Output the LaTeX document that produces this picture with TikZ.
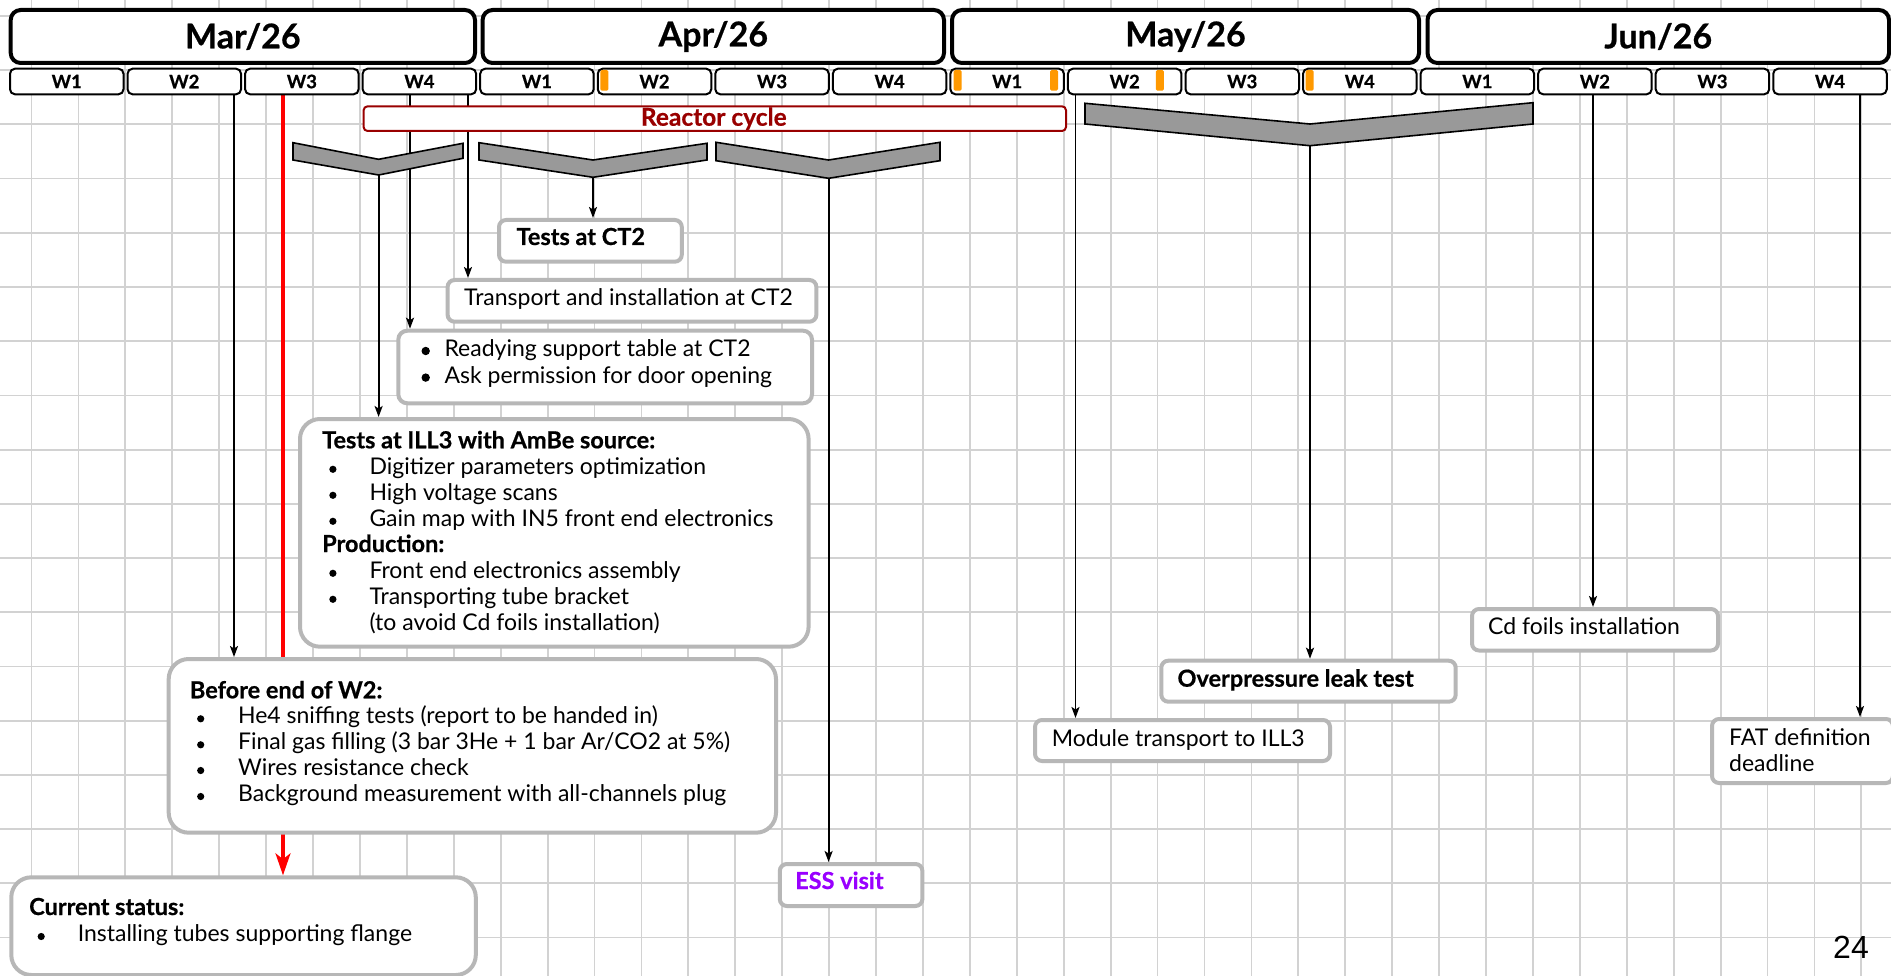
\documentclass[tikz,border=0pt]{standalone}
\usepackage{fontspec}
\setmainfont{Lato}[BoldFeatures={FakeBold=0.6}]
\newfontfamily\pagenumfont{Liberation Sans}
\usetikzlibrary{arrows.meta}
\definecolor{gridgray}{HTML}{D2D2D2}
\definecolor{boxgray}{HTML}{B7B7B7}
\definecolor{chevgray}{HTML}{999999}
\definecolor{reactred}{HTML}{990000}
\definecolor{markorange}{HTML}{FF9900}
\definecolor{esspurple}{HTML}{9900FF}
\pgfdeclarelayer{gridlayer}
\pgfdeclarelayer{linelayer}
\pgfsetlayers{gridlayer,linelayer,main}
\tikzset{
  gridline/.style={draw=gridgray, line width=1.8pt},
  month/.style={draw=black, line width=4pt, rounded corners=10pt, fill=white, inner sep=0pt, anchor=north west, minimum height=53pt, font=\fontsize{34}{38}\selectfont\bfseries},
  week/.style={draw=black, line width=2pt, rounded corners=5pt, fill=white, inner sep=0pt, anchor=north west, minimum width=113.5pt, minimum height=25.6pt, font=\fontsize{18.5}{20}\selectfont\bfseries},
  box/.style={draw=boxgray, line width=4pt, rounded corners=7pt, fill=white, inner sep=0pt, anchor=north west},
  bigbox/.style={box, rounded corners=20pt},
  reactor/.style={draw=reactred, line width=2pt, rounded corners=4pt, fill=white, inner sep=0pt, anchor=north west},
  chev/.style={draw=black, line width=1.6pt, fill=chevgray, line join=miter},
  arr/.style={draw=black, line width=1.8pt, -{Stealth[length=11pt, width=8pt, inset=2.5pt]}},
  redarr/.style={draw=red, line width=3.2pt, -{Stealth[length=22pt, width=15pt, inset=6pt]}},
  txt/.style={inner sep=0pt, anchor=base west, font=\fontsize{23}{26}\selectfont},
  btxt/.style={inner sep=0pt, anchor=base west, font=\fontsize{23.5}{26}\selectfont\bfseries},
  bul/.style={fill=black},
  omark/.style={fill=markorange, rounded corners=1.5pt},
}
\begin{document}
\begin{tikzpicture}[x=1pt,y=-1pt]
\useasboundingbox (0,0) rectangle (1891,976);
\begin{pgfonlayer}{gridlayer}
  \fill[white] (0,0) rectangle (1891,976);
  \foreach \k in {0,...,39} \draw[gridline] ({31.5+46.92*\k},0) -- ({31.5+46.92*\k},976);
  \foreach \k in {0,...,17} \draw[gridline] (0,{16+54.2*\k}) -- (1891,{16+54.2*\k});
\end{pgfonlayer}

% months
\node[month, minimum width=464.3pt] (mar) at (8.7,8) {Mar/26};
\node[month, minimum width=461.4pt] (apr) at (480.6,8) {Apr/26};
\node[month, minimum width=467pt] (may) at (950,8) {May/26};
\node[month, minimum width=461.5pt] (jun) at (1425.5,8) {Jun/26};

% weeks
\foreach \i in {0,...,15} {
  \pgfmathsetmacro\wl{9+117.55*\i}
  \pgfmathtruncatemacro\wn{mod(\i,4)+1}
  \node[week] (w\i) at (\wl,67.7) {W\wn};
}
% orange marks
\fill[omark] (600.4,70) rectangle ++(8,20.7);
\fill[omark] (953.6,70) rectangle ++(8,20.7);
\fill[omark] (1050,70) rectangle ++(8,20.7);
\fill[omark] (1155.8,70) rectangle ++(8,20.7);
\fill[omark] (1305.6,70) rectangle ++(8,20.7);

% reactor cycle
\node[reactor, minimum width=702.4pt, minimum height=24.7pt] (reactor) at (362.6,105.3) {};
\node[inner sep=0pt, anchor=base, text=reactred, font=\fontsize{24.5}{26}\selectfont\bfseries] (reactorlbl) at (713.8,125.7) {Reactor cycle};

% chevrons
\draw[chev] (293,142.7) -- (378.6,159.3) -- (463,143.3) -- (463,158.3) -- (378.6,175) -- (293,160) -- cycle;
\draw[chev] (479,142.7) -- (593,160) -- (707,143.3) -- (707,160) -- (593,177.3) -- (479,160) -- cycle;
\draw[chev] (716,142.3) -- (828.6,160) -- (940,142.3) -- (940,160.7) -- (828.6,178.3) -- (716,160.7) -- cycle;
\draw[chev] (1085,103.3) -- (1310,124) -- (1533,102.7) -- (1533,124) -- (1310,145.7) -- (1085,124) -- cycle;
\coordinate (c1) at (378.6,175);
\coordinate (c2) at (593,177.3);
\coordinate (c3) at (828.6,178.3);
\coordinate (c4) at (1310,145.7);

% boxes
\node[box, minimum width=182.8pt, minimum height=41.7pt] (tct2) at (497,218) {};
\node[btxt] (tct2t) at (516.4,245) {Tests at CT2};

\node[box, minimum width=368.8pt, minimum height=41.7pt] (transp) at (445.6,278) {};
\node[txt] (transpt) at (464,306) {Transport and installation at CT2};

\node[box, rounded corners=9pt, minimum width=413.7pt, minimum height=72.6pt] (ready) at (396.3,328.7) {};
\fill[bul] (425.7,351) circle[radius=4.2pt];
\node[txt] (ready1) at (444.3,356.7) {Readying support table at CT2};
\fill[bul] (425.7,377.6) circle[radius=4.2pt];
\node[txt] (ready2) at (444.3,383.3) {Ask permission for door opening};

\node[bigbox, minimum width=508.6pt, minimum height=227.7pt] (ill3) at (298,417) {};
\node[btxt] (ill3a) at (322,448.3) {Tests at ILL3 with AmBe source:};
\fill[bul] (332.9,469.3) circle[radius=3.6pt];
\node[txt] (ill3b) at (369.3,474) {Digitizer parameters optimization};
\fill[bul] (332.9,495.3) circle[radius=3.6pt];
\node[txt] (ill3c) at (369.3,500) {High voltage scans};
\fill[bul] (332.9,521.3) circle[radius=3.6pt];
\node[txt] (ill3d) at (369.3,526) {Gain map with IN5 front end electronics};
\node[btxt] (ill3e) at (322,552) {Production:};
\fill[bul] (332.9,573.3) circle[radius=3.6pt];
\node[txt] (ill3f) at (369.3,578) {Front end electronics assembly};
\fill[bul] (332.9,599.3) circle[radius=3.6pt];
\node[txt] (ill3g) at (369.3,604) {Transporting tube bracket};
\node[txt] (ill3h) at (369.3,630) {(to avoid Cd foils installation)};

\node[bigbox, minimum width=607.3pt, minimum height=173.7pt] (bw2) at (166.7,657) {};
\node[btxt] (bw2a) at (189.7,698.3) {Before end of W2:};
\fill[bul] (200.7,718.8) circle[radius=3.6pt];
\node[txt] (bw2b) at (237.9,723.3) {He4 sniffing tests (report to be handed in)};
\fill[bul] (200.7,744.8) circle[radius=3.6pt];
\node[txt] (bw2c) at (237.9,749.3) {Final gas filling (3 bar 3He + 1 bar Ar/CO2 at 5\%)};
\fill[bul] (200.7,770.5) circle[radius=3.6pt];
\node[txt] (bw2d) at (237.9,775) {Wires resistance check};
\fill[bul] (200.7,796.5) circle[radius=3.6pt];
\node[txt] (bw2e) at (237.9,801) {Background measurement with all-channels plug};

\node[bigbox, minimum width=464.5pt, minimum height=97.7pt] (cur) at (9.3,875.3) {};
\node[btxt] (cura) at (29,915) {Current status:};
\fill[bul] (41.2,936.5) circle[radius=3.6pt];
\node[txt] (curb) at (77.6,941) {Installing tubes supporting flange};

\node[box, minimum width=142.6pt, minimum height=42pt] (ess) at (777.8,862) {};
\node[btxt, text=esspurple] (esst) at (795,889) {ESS visit};

\node[box, minimum width=295pt, minimum height=41pt] (modt) at (1033,718) {};
\node[txt] (modtt) at (1051.7,746) {Module transport to ILL3};

\node[box, minimum width=294.4pt, minimum height=41pt] (overp) at (1159.3,658.7) {};
\node[btxt] (overpt) at (1177.3,686.7) {Overpressure leak test};

\node[box, minimum width=246pt, minimum height=41.5pt] (cdf) at (1470,607) {};
\node[txt] (cdft) at (1488,634) {Cd foils installation};

\node[box, minimum width=181pt, minimum height=64pt] (fat) at (1710,717) {};
\node[txt] (fat1) at (1729,745.7) {FAT definition};
\node[txt] (fat2) at (1729,771.7) {deadline};

\node[inner sep=0pt, anchor=base west, font=\pagenumfont\fontsize{32}{36}\selectfont] (pnum) at (1833,958) {24};

% connector sources
\coordinate (s1) at (234,92);
\coordinate (s2) at (283,92);
\coordinate (s3) at (410,92);
\coordinate (s4) at (468,92);
\coordinate (s5) at (1075.5,92);
\coordinate (s6) at (1593,92);
\coordinate (s7) at (1860,92);

\begin{pgfonlayer}{linelayer}
  \draw[arr] (s1) -- (s1 |- bw2.north);
  \draw[redarr] (s2) -- (s2 |- cur.north);
  \draw[arr] (s3) -- (s3 |- ready.north);
  \draw[arr] (s4) -- (s4 |- transp.north);
  \draw[arr] (c1) -- (c1 |- ill3.north);
  \draw[arr] (c2) -- (c2 |- tct2.north);
  \draw[arr] (c3) -- (c3 |- ess.north);
  \draw[arr] (s5) -- (s5 |- modt.north);
  \draw[arr] (c4) -- (c4 |- overp.north);
  \draw[arr] (s6) -- (s6 |- cdf.north);
  \draw[arr] (s7) -- (s7 |- fat.north);
\end{pgfonlayer}
\end{tikzpicture}
\end{document}
